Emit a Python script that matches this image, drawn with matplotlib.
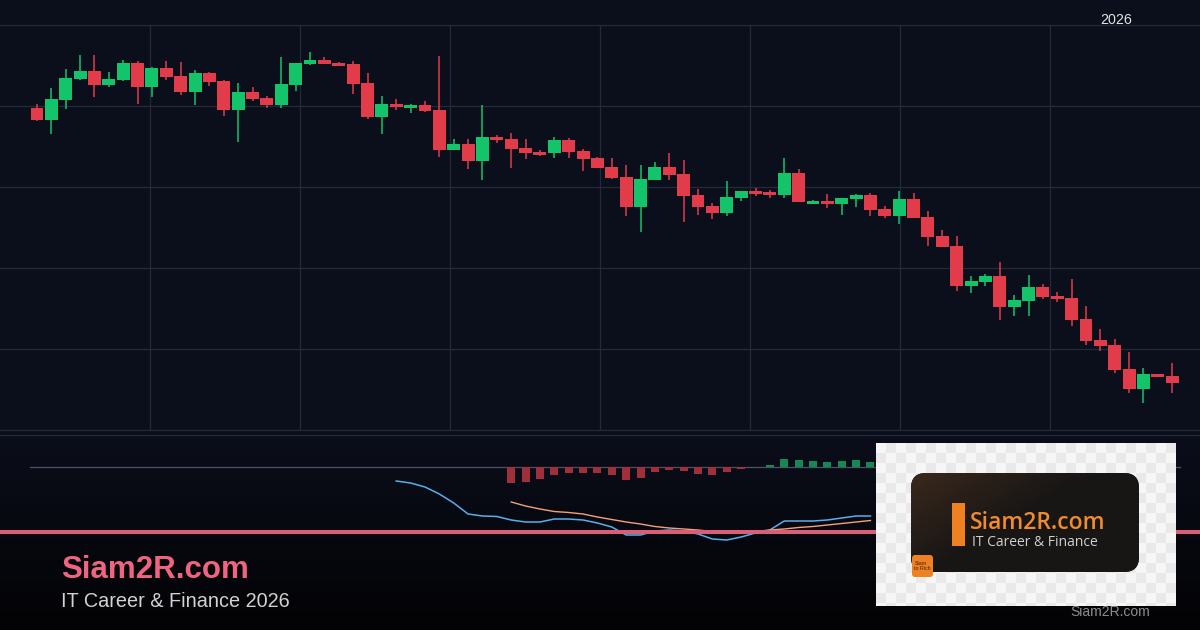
import numpy as np
import matplotlib
matplotlib.use("Agg")
import matplotlib.pyplot as plt
from matplotlib.patches import FancyBboxPatch, Rectangle
from matplotlib.lines import Line2D
from matplotlib.colors import ListedColormap

plt.rcParams["font.family"] = ["Liberation Sans", "DejaVu Sans"]

# ---- candle data (one entry per bar, left to right) ----
opens = [39.90, 39.14, 40.37, 41.67, 42.18, 41.30, 41.60, 42.67, 41.17, 42.35,
         41.85, 40.86, 42.04, 41.54, 39.75, 40.86, 40.49, 40.06, 41.30, 42.59,
         42.84, 42.65, 42.59, 41.42, 39.32, 40.12, 39.88, 40.06, 39.75, 37.28,
         37.65, 36.61, 38.09, 37.96, 37.41, 37.16, 37.10, 37.90, 37.22, 36.79,
         36.23, 35.62, 33.77, 35.43, 36.23, 35.80, 34.51, 33.83, 33.40, 34.32,
         34.75, 34.69, 34.51, 35.86, 33.95, 34.14, 33.95, 34.26, 34.51, 33.64,
         33.21, 34.26, 33.15, 31.98, 31.36, 28.89, 29.14, 29.51, 27.59, 27.96,
         28.83, 28.27, 28.15, 26.85, 25.56, 25.25, 23.77, 22.53, 23.46, 23.33]
highs = [40.12, 41.09, 42.28, 43.15, 43.15, 42.10, 42.84, 42.78, 42.40, 42.78,
         42.72, 42.22, 42.10, 41.60, 41.42, 41.17, 40.62, 43.02, 42.65, 43.33,
         43.02, 42.72, 42.78, 42.04, 40.62, 40.43, 40.12, 40.31, 43.09, 37.96,
         37.96, 40.06, 38.21, 38.33, 37.96, 37.28, 38.09, 38.02, 37.35, 36.85,
         36.79, 36.36, 36.36, 36.54, 37.10, 36.67, 34.88, 34.01, 35.37, 34.75,
         34.94, 34.82, 36.79, 36.11, 34.20, 34.57, 34.32, 34.57, 34.63, 33.83,
         34.75, 34.63, 33.52, 32.35, 31.98, 29.51, 29.63, 30.37, 28.33, 29.57,
         29.01, 28.52, 29.32, 27.65, 26.23, 25.62, 24.82, 23.83, 23.46, 24.14]
lows = [39.09, 38.27, 39.81, 41.60, 40.56, 41.19, 41.54, 40.12, 40.56, 41.62,
        40.70, 40.06, 41.25, 39.38, 37.78, 40.31, 39.88, 39.88, 40.93, 42.55,
        42.59, 42.47, 40.74, 39.20, 38.27, 39.75, 39.57, 39.63, 36.85, 37.28,
        36.11, 35.43, 37.72, 36.17, 36.73, 36.91, 36.79, 36.79, 35.99, 36.17,
        35.49, 33.21, 32.22, 35.43, 35.43, 32.84, 33.27, 33.02, 33.21, 34.14,
        34.44, 34.32, 34.32, 34.07, 33.95, 33.70, 33.27, 33.77, 33.21, 33.09,
        32.72, 33.09, 31.36, 31.30, 28.58, 28.46, 28.89, 26.79, 27.04, 27.04,
        28.09, 27.90, 26.42, 25.25, 24.88, 23.52, 22.28, 21.67, 23.27, 22.28]
closes = [39.14, 40.43, 41.73, 42.18, 41.30, 41.67, 42.67, 41.17, 42.36, 41.79,
          40.86, 42.04, 41.48, 39.75, 40.86, 40.43, 40.06, 41.36, 42.65, 42.84,
          42.59, 42.49, 41.36, 39.32, 40.12, 39.94, 40.06, 39.69, 37.28, 37.65,
          36.61, 38.09, 37.90, 37.35, 37.10, 36.98, 37.90, 37.16, 36.73, 36.17,
          35.56, 33.77, 35.49, 36.23, 35.74, 34.44, 33.77, 33.40, 34.38, 34.75,
          34.57, 34.51, 35.86, 34.07, 34.14, 33.95, 34.32, 34.51, 33.58, 33.21,
          34.26, 33.09, 31.91, 31.30, 28.89, 29.20, 29.51, 27.59, 28.02, 28.83,
          28.21, 28.09, 26.79, 25.49, 25.19, 23.70, 22.53, 23.46, 23.27, 22.90]
price_levels = [20, 25, 30, 35, 40, 45]

# ---- MACD panel ----
macd_start = 25
macd_vals = [-1.4, -1.6, -2.0, -2.7, -3.6, -4.7, -4.9, -4.95, -5.3, -5.5,
             -5.5, -5.2, -5.2, -5.3, -5.6, -6.0, -6.8, -6.8, -6.4, -6.3,
             -6.4, -6.7, -7.2, -7.3, -7.0, -6.6, -6.3, -5.4, -5.4, -5.4,
             -5.3, -5.1, -4.9, -4.9]
signal_start = 33
signal_vals = [-3.5, -3.9, -4.2, -4.45, -4.55, -4.7, -5.0, -5.25, -5.5, -5.7,
               -5.95, -6.1, -6.2, -6.3, -6.45, -6.6, -6.55, -6.45, -6.3, -6.2,
               -6.05, -5.95, -5.8, -5.65, -5.5, -5.35]
hist_start = 33
hist_vals = [-1.57, -1.47, -1.17, -0.77, -0.57, -0.57, -0.57, -0.77, -1.27, -1.07,
             -0.47, -0.27, -0.37, -0.67, -0.77, -0.47, -0.17, -0.03, 0.23, 0.83,
             0.70, 0.57, 0.50, 0.60, 0.70, 0.50]

year_label = "2026"
brand = "Siam2R.com"
tagline = "IT Career & Finance 2026"
logo_sub = "IT Career & Finance"

UP = "#13c46b"
DOWN = "#e23c4b"
GRID = "#252a3a"

W, H = 1200, 630
fig = plt.figure(figsize=(W / 100, H / 100), dpi=100)

# background gradient
bg = fig.add_axes([0, 0, 1, 1], zorder=-10)
bg.axis("off")
yy = np.arange(H)
t = np.clip((yy - 430) / 200.0, 0, 1)
top_c = np.array([11, 14, 27]) / 255
bot_c = np.array([3, 3, 5]) / 255
grad = top_c[None, :] * (1 - t[:, None]) + bot_c[None, :] * t[:, None]
bg.imshow(grad[:, None, :], aspect="auto", extent=(0, 1, 0, 1))
bg.set_xlim(0, 1)
bg.set_ylim(0, 1)

# layout: candle i sits at pixel 37 + 14.37*i
x0, step = 37.0, 14.37
xlim = (-x0 / step, (W - x0) / step)

ax = fig.add_axes([0, 1 - 430 / H, 1, 405 / H], zorder=1)
ax.set_facecolor("none")
ax.set_xlim(*xlim)
ax.set_ylim(price_levels[0], price_levels[-1])
for s in ax.spines.values():
    s.set_visible(False)
ax.set_xticks([])
ax.set_yticks([])
for lvl in price_levels:
    ax.axhline(lvl, color=GRID, lw=0.9, clip_on=False, zorder=0)
for px in range(150, W, 150):
    ax.axvline((px - x0) / step, color=GRID, lw=0.9, zorder=0)

o = np.array(opens)
h = np.array(highs)
l = np.array(lows)
c = np.array(closes)
idx = np.arange(len(o))
cols = [UP if cc >= oo else DOWN for oo, cc in zip(o, c)]
ax.vlines(idx, l, h, colors=cols, lw=1.1, zorder=2)
body_bottom = np.minimum(o, c)
body_h = np.maximum(np.abs(c - o), 0.09)
ax.bar(idx, body_h, bottom=body_bottom, width=0.9, color=cols, linewidth=0, zorder=3)

# MACD panel
mx = fig.add_axes([0, 1 - 560 / H, 1, 124 / H], zorder=2)
mx.set_facecolor("none")
mx.set_xlim(*xlim)
mx.set_ylim(-9.3, 3.1)
mx.axis("off")
mx.axhline(0, xmin=30 / W, xmax=1180 / W, color="#4a5364", lw=0.9, zorder=1)
hv = np.array(hist_vals)
hx = np.arange(hist_start, hist_start + len(hv))
hcols = ["#138a52" if v >= 0 else "#9e2f3b" for v in hv]
mx.bar(hx, hv, width=0.56, color=hcols, linewidth=0, zorder=2)
mx.plot(np.arange(macd_start, macd_start + len(macd_vals)), macd_vals,
        color="#5aaeea", lw=1.1, zorder=3)
mx.plot(np.arange(signal_start, signal_start + len(signal_vals)), signal_vals,
        color="#f2a27a", lw=1.0, zorder=3)

# separator and branding strip
fig.add_artist(Line2D([0, 1], [1 - 435 / H] * 2, transform=fig.transFigure,
                      color=GRID, lw=0.9, zorder=3))
fig.add_artist(Line2D([0, 1], [1 - 532 / H] * 2, transform=fig.transFigure,
                      color="#d95f78", lw=2.9, zorder=4))

fig.text(1116 / W, 1 - 20 / H, year_label, ha="center", va="center",
         fontsize=10.3, color="#e3e3e3")
fig.text(61 / W, 1 - 578 / H, brand, fontsize=22.5, fontweight="bold",
         color="#ef6480", va="baseline", zorder=5)
fig.text(61 / W, 1 - 607 / H, tagline, fontsize=14.3, color="#d2d2d2",
         va="baseline", zorder=5)
fig.text(1070 / W, 1 - 616 / H, brand, fontsize=10, color="#8c8c92",
         va="baseline", zorder=5)

# logo card
lx0, lx1, ly0, ly1 = 876, 1176, 443, 606
lg = fig.add_axes([lx0 / W, 1 - ly1 / H, (lx1 - lx0) / W, (ly1 - ly0) / H], zorder=10)
lg.set_xlim(lx0, lx1)
lg.set_ylim(ly1, ly0)
lg.axis("off")
checker = np.add.outer(np.arange(17), np.arange(30)) % 2
lg.imshow(checker, cmap=ListedColormap(["#f6f6f6", "#e9e9e9"]),
          extent=(lx0, lx1, ly0 + 170, ly0), aspect="auto", interpolation="nearest")
card = FancyBboxPatch((911, 473), 228, 99, boxstyle="round,pad=0,rounding_size=15",
                      facecolor="#1a1817", edgecolor="none", zorder=2)
lg.add_patch(card)
u = np.linspace(0, 1, 120)[None, :]
v = np.linspace(0, 1, 60)[:, None]
w = np.clip(1 - (u * 1.3 + v * 0.9), 0, 1)
c_dark = np.array([24, 22, 21]) / 255
c_warm = np.array([58, 40, 28]) / 255
card_img = c_dark[None, None, :] * (1 - w[..., None]) + c_warm[None, None, :] * w[..., None]
im = lg.imshow(card_img, extent=(911, 1139, 572, 473), aspect="auto", zorder=3)
im.set_clip_path(card)
lg.add_patch(Rectangle((952, 503), 13, 43, facecolor="#f08122", edgecolor="none", zorder=4))
lg.text(970, 529, brand, fontsize=16.5, color="#f28a2e", family=["Open Sans", "DejaVu Sans"],
        fontweight="semibold", va="baseline", zorder=5)
lg.text(972, 546, logo_sub, fontsize=10, color="#d0d0d0", family=["Open Sans", "DejaVu Sans"],
        va="baseline", zorder=5)
lg.add_patch(FancyBboxPatch((912, 555), 21, 22, boxstyle="round,pad=0,rounding_size=3",
                            facecolor="#f08122", edgecolor="none", zorder=5))
lg.text(914.5, 566, "Siam\nto Rich", fontsize=3.8, color="#3a2414", va="center",
        linespacing=1.0, zorder=6)

fig.savefig("out.png", dpi=100)
